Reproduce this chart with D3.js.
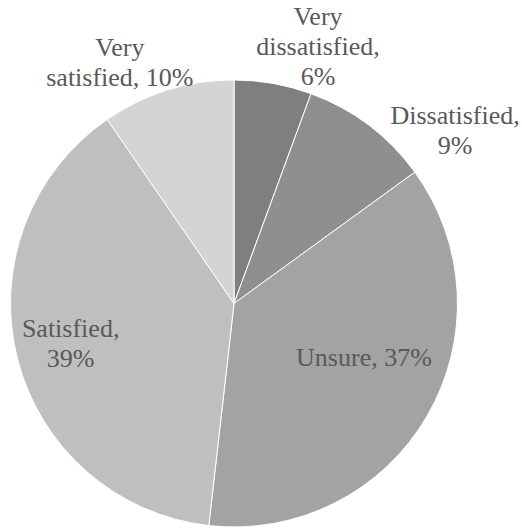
<!DOCTYPE html>
<html>
<head>
<meta charset="utf-8">
<script src="https://cdn.jsdelivr.net/npm/d3@7"></script>
<style>
  html, body { margin: 0; padding: 0; background: #ffffff; }
  svg { display: block; }
</style>
</head>
<body>
<svg id="chart" width="522" height="529"></svg>
<script>
// Data
const categories = ["Very dissatisfied", "Dissatisfied", "Unsure", "Satisfied", "Very satisfied"];
const values = [5.6, 9.4, 36.8, 38.6, 9.6];
const labelPercents = ["6%", "9%", "37%", "39%", "10%"];
const labelLines = [
  ["Very", "dissatisfied,", "6%"],
  ["Dissatisfied,", "9%"],
  ["Unsure, 37%"],
  ["Satisfied,", "39%"],
  ["Very", "satisfied, 10%"]
];
const colors = ["#7f7f7f", "#8f8f8f", "#a3a3a3", "#bfbfbf", "#d4d4d4"];

// Layout (label placement: angle in degrees from 12 o'clock, radius as fraction of R)
const labelLayout = [
  { angle: 18.1, r: 1.21 },
  { angle: 51.9, r: 1.257 },
  { angle: 112.4, r: 0.629 },
  { angle: 256.4, r: 0.752 },
  { angle: 334.7, r: 1.195 }
];

const W = 522, H = 529;
const cx = 234, cy = 303.5, R = 223.5;
const fontSize = 26, lineH = 30;

const svg = d3.select("#chart");
const g = svg.append("g").attr("transform", `translate(${cx},${cy})`);

const pie = d3.pie().sort(null).value(d => d.value);
const data = categories.map((c, i) => ({ cat: c, value: values[i], i }));
const arcs = pie(data);
const arc = d3.arc().innerRadius(0).outerRadius(R);

g.selectAll("path.slice")
  .data(arcs)
  .enter().append("path")
  .attr("class", "slice")
  .attr("d", arc)
  .attr("fill", d => colors[d.data.i])
  .attr("stroke", "#ffffff")
  .attr("stroke-width", 1);

const labels = g.selectAll("text.lbl")
  .data(arcs)
  .enter().append("text")
  .attr("class", "lbl")
  .attr("font-family", "'Liberation Serif', 'Times New Roman', serif")
  .attr("font-size", fontSize)
  .attr("fill", "#595959")
  .attr("text-anchor", "middle")
  .each(function(d) {
    const i = d.data.i;
    const L = labelLayout[i];
    const a = L.angle * Math.PI / 180;
    const x = Math.sin(a) * L.r * R;
    const y = -Math.cos(a) * L.r * R;
    const lines = labelLines[i];
    const n = lines.length;
    const t = d3.select(this);
    lines.forEach((ln, k) => {
      t.append("tspan")
        .attr("x", x)
        .attr("y", y + (k - (n - 1) / 2) * lineH + fontSize * 0.33)
        .text(ln);
    });
  });
</script>
</body>
</html>
